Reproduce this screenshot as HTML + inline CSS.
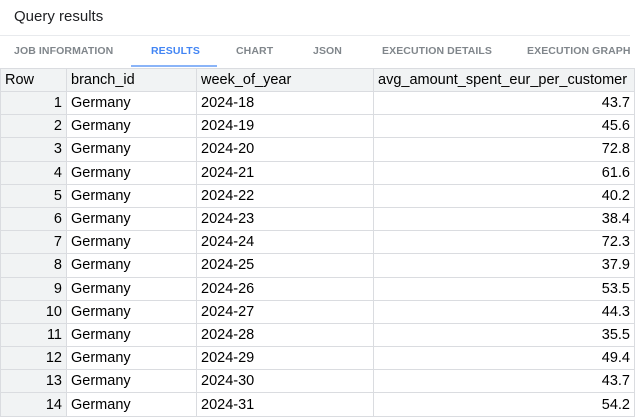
<!DOCTYPE html>
<html><head><meta charset="utf-8"><style>
body{margin:0;width:639px;height:419px;overflow:hidden;background:#fff;font-family:"Liberation Sans",Arial,sans-serif;position:relative}
.title{position:absolute;left:14px;top:8px;font-size:15px;color:#202124}
.divider{position:absolute;left:0;top:35px;width:630px;height:1px;background:#e8eaed}
.tab{position:absolute;top:45px;font-size:10.5px;font-weight:bold;color:#80868b;letter-spacing:0.1px}
.tab.active{color:#4285f4}
.underline{position:absolute;left:131px;top:65px;width:86px;height:2px;background:#8ab4f8}
table{position:absolute;left:0;top:68px;border-collapse:collapse;font-size:14.5px;color:#000;table-layout:fixed}
td,th{border:1px solid #dadce0;padding:0 4px;height:22.2px;white-space:nowrap;overflow:hidden}
th{font-weight:normal;text-align:left;background:#f1f3f4;height:22px}
td.n{text-align:right;background:#f1f3f4}
td.v{text-align:right}
</style></head><body>
<div class="title">Query results</div>
<div class="divider"></div>
<div class="tab" style="left:14px">JOB INFORMATION</div>
<div class="tab active" style="left:151px">RESULTS</div>
<div class="tab" style="left:236px">CHART</div>
<div class="tab" style="left:313px">JSON</div>
<div class="tab" style="left:382px">EXECUTION DETAILS</div>
<div class="tab" style="left:527px">EXECUTION GRAPH</div>
<div class="underline"></div>
<table>
<colgroup><col style="width:66px"><col style="width:130px"><col style="width:177px"><col style="width:261px"></colgroup>
<thead><tr><th>Row</th><th>branch_id</th><th>week_of_year</th><th>avg_amount_spent_eur_per_customer</th></tr></thead>
<tbody id="tb"></tbody>
</table>
<script>
const weeks=["2024-18","2024-19","2024-20","2024-21","2024-22","2024-23","2024-24","2024-25","2024-26","2024-27","2024-28","2024-29","2024-30","2024-31"];
const values=["43.7","45.6","72.8","61.6","40.2","38.4","72.3","37.9","53.5","44.3","35.5","49.4","43.7","54.2"];
const tb=document.getElementById('tb');
weeks.forEach((w,i)=>{
 const tr=document.createElement('tr');
 
 
 tr.innerHTML='<td class="n">'+(i+1)+'</td><td>Germany</td><td>'+w+'</td><td class="v">'+values[i]+'</td>';
 tb.appendChild(tr);
});
</script>
</body></html>
